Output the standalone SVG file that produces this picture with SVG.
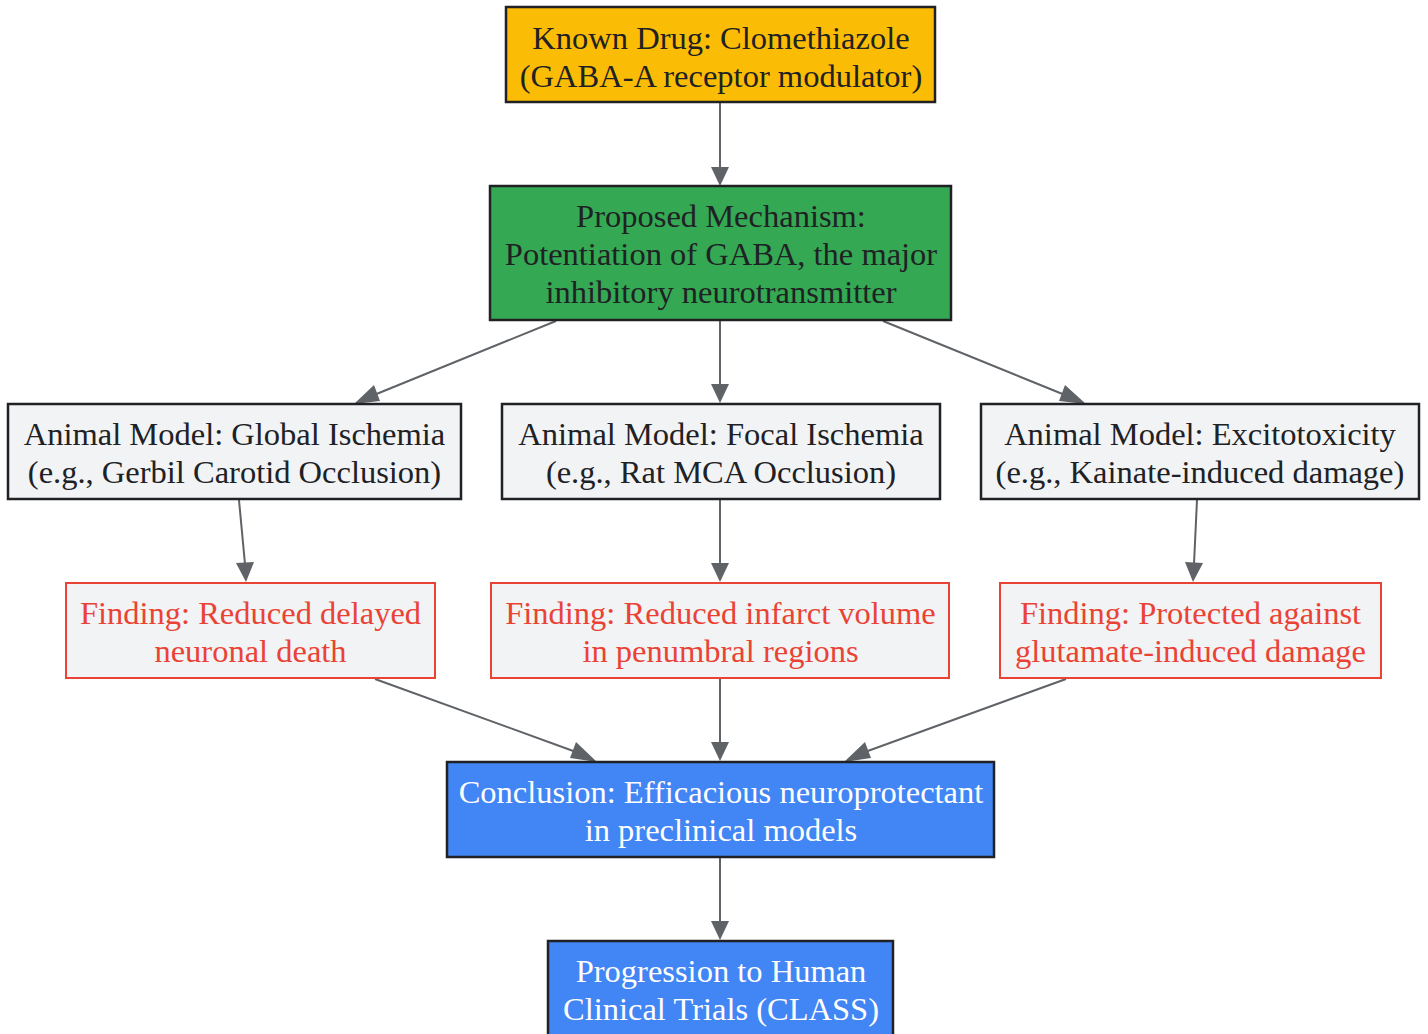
<svg xmlns="http://www.w3.org/2000/svg" width="1428" height="1034" viewBox="0 0 1428 1034">
<defs>
<style>
.n{stroke:#202124;stroke-width:2.5}
.t{font-family:"Liberation Serif","Times New Roman",serif;font-size:32.5px;text-anchor:middle;fill:#202124}
.w{fill:#ffffff}
.r{fill:#EA4335}
.e{stroke:#5F6368;stroke-width:2;fill:none}
.h{fill:#5F6368}
</style>
</defs>
<rect width="1428" height="1034" fill="#ffffff"/>
<g id="edges">
<path class="e" d="M720,103 L720,168"/>
<path class="h" d="M711,167 L729,167 L720,186 z"/>
<path class="e" d="M556,321 L374,395"/>
<path class="h" d="M374,385 L380,401 L354,404 z"/>
<path class="e" d="M720,321 L720,385"/>
<path class="h" d="M711,384 L729,384 L720,403 z"/>
<path class="e" d="M883,321 L1065,395"/>
<path class="h" d="M1065,385 L1059,401 L1086,404 z"/>
<path class="e" d="M239,500 L245,564"/>
<path class="h" d="M236,563 L254,562 L246,582 z"/>
<path class="e" d="M720,500 L720,564"/>
<path class="h" d="M711,563 L729,563 L720,582 z"/>
<path class="e" d="M1197,500 L1194,564"/>
<path class="h" d="M1185,562 L1203,563 L1193,582 z"/>
<path class="e" d="M375,679 L576,752"/>
<path class="h" d="M576,742 L570,758 L597,762 z"/>
<path class="e" d="M720,679 L720,743"/>
<path class="h" d="M711,742 L729,742 L720,761 z"/>
<path class="e" d="M1066,679 L865,752"/>
<path class="h" d="M865,742 L871,758 L844,762 z"/>
<path class="e" d="M720,858 L720,922"/>
<path class="h" d="M711,921 L729,921 L720,940 z"/>
</g>
<g id="drug">
<rect class="n" x="506" y="7" width="429" height="95" fill="#FBBC05"/>
<text class="t" x="721" y="48.5">Known Drug: Clomethiazole</text>
<text class="t" x="721" y="86.5">(GABA-A receptor modulator)</text>
</g>
<g id="mechanism">
<rect class="n" x="490" y="186" width="461" height="134" fill="#34A853"/>
<text class="t" x="721" y="226.5">Proposed Mechanism:</text>
<text class="t" x="721" y="264.5">Potentiation of GABA, the major</text>
<text class="t" x="721" y="302.5">inhibitory neurotransmitter</text>
</g>
<g id="global">
<rect class="n" x="8" y="404" width="453" height="95" fill="#F1F3F4"/>
<text class="t" x="234.5" y="444.5">Animal Model: Global Ischemia</text>
<text class="t" x="234.5" y="482.5">(e.g., Gerbil Carotid Occlusion)</text>
</g>
<g id="focal">
<rect class="n" x="502" y="404" width="438" height="95" fill="#F1F3F4"/>
<text class="t" x="721" y="444.5">Animal Model: Focal Ischemia</text>
<text class="t" x="721" y="482.5">(e.g., Rat MCA Occlusion)</text>
</g>
<g id="excito">
<rect class="n" x="981" y="404" width="438" height="95" fill="#F1F3F4"/>
<text class="t" x="1200" y="444.5">Animal Model: Excitotoxicity</text>
<text class="t" x="1200" y="482.5">(e.g., Kainate-induced damage)</text>
</g>
<g id="finding1">
<rect x="66" y="583" width="369" height="95" fill="#F1F3F4" stroke="#EA4335" stroke-width="2"/>
<text class="t r" x="250.5" y="623.5">Finding: Reduced delayed</text>
<text class="t r" x="250.5" y="661.5">neuronal death</text>
</g>
<g id="finding2">
<rect x="491" y="583" width="458" height="95" fill="#F1F3F4" stroke="#EA4335" stroke-width="2"/>
<text class="t r" x="720.5" y="623.5">Finding: Reduced infarct volume</text>
<text class="t r" x="720.5" y="661.5">in penumbral regions</text>
</g>
<g id="finding3">
<rect x="1000" y="583" width="381" height="95" fill="#F1F3F4" stroke="#EA4335" stroke-width="2"/>
<text class="t r" x="1190.5" y="623.5">Finding: Protected against</text>
<text class="t r" x="1190.5" y="661.5">glutamate-induced damage</text>
</g>
<g id="conclusion">
<rect class="n" x="447" y="762" width="547" height="95" fill="#4285F4"/>
<text class="t w" x="721" y="802.5">Conclusion: Efficacious neuroprotectant</text>
<text class="t w" x="721" y="840.5">in preclinical models</text>
</g>
<g id="progression">
<rect class="n" x="548" y="941" width="345" height="95" fill="#4285F4"/>
<text class="t w" x="721" y="981.5">Progression to Human</text>
<text class="t w" x="721" y="1019.5">Clinical Trials (CLASS)</text>
</g>
</svg>
